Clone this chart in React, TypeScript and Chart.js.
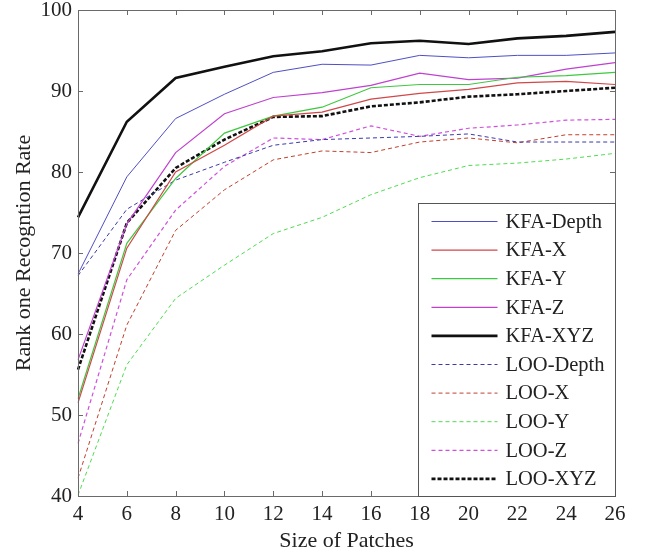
import React, { useEffect, useRef } from 'react';
import { Chart, registerables } from 'chart.js';

Chart.register(...registerables);

const patchSizes = ['4', '6', '8', '10', '12', '14', '16', '18', '20', '22', '24', '26'];
const yTickValues = [40, 50, 60, 70, 80, 90, 100];

const kfaDepth = [67.4, 79.4, 86.6, 89.6, 92.3, 93.3, 93.2, 94.4, 94.1, 94.4, 94.4, 94.7];
const kfaX = [51.5, 70.6, 80.0, 83.3, 86.9, 87.4, 89.0, 89.7, 90.2, 91.0, 91.2, 90.8];
const kfaY = [52.0, 71.2, 79.2, 84.8, 86.9, 88.0, 90.4, 90.8, 90.8, 91.7, 91.9, 92.3];
const kfaZ = [56.8, 73.6, 82.4, 87.2, 89.2, 89.8, 90.7, 92.2, 91.4, 91.6, 92.7, 93.5];
const kfaXYZ = [74.4, 86.2, 91.6, 93.0, 94.3, 94.9, 95.9, 96.2, 95.8, 96.5, 96.8, 97.3];
const looDepth = [67.2, 75.4, 79.0, 81.2, 83.3, 84.0, 84.2, 84.4, 84.7, 83.7, 83.7, 83.7];
const looX = [42.2, 61.1, 72.8, 77.8, 81.5, 82.6, 82.4, 83.7, 84.2, 83.6, 84.6, 84.6];
const looY = [40.1, 56.2, 64.4, 68.5, 72.4, 74.4, 77.2, 79.3, 80.8, 81.1, 81.6, 82.3];
const looZ = [46.5, 66.7, 75.3, 80.7, 84.2, 84.0, 85.7, 84.4, 85.4, 85.8, 86.4, 86.5];
const looXYZ = [55.6, 73.7, 80.5, 84.0, 86.8, 86.9, 88.1, 88.6, 89.3, 89.6, 90.0, 90.4];

const FONT = '"Liberation Serif", "Times New Roman", serif';
const TEXT = '#222';
const AXIS = '#6a6a6a';

const series = [
  { label: 'KFA-Depth', data: kfaDepth, color: '#4f4fc4', width: 1, dash: [] as number[] },
  { label: 'KFA-X', data: kfaX, color: '#d04848', width: 1.2, dash: [] as number[] },
  { label: 'KFA-Y', data: kfaY, color: '#3fc83f', width: 1.2, dash: [] as number[] },
  { label: 'KFA-Z', data: kfaZ, color: '#c040d0', width: 1.2, dash: [] as number[] },
  { label: 'KFA-XYZ', data: kfaXYZ, color: '#111111', width: 2.6, dash: [] as number[] },
  { label: 'LOO-Depth', data: looDepth, color: '#3a3aa8', width: 1, dash: [4, 3] },
  { label: 'LOO-X', data: looX, color: '#c0402e', width: 1, dash: [4, 3] },
  { label: 'LOO-Y', data: looY, color: '#50dc50', width: 1, dash: [4, 3] },
  { label: 'LOO-Z', data: looZ, color: '#d050dc', width: 1.2, dash: [4, 3] },
  { label: 'LOO-XYZ', data: looXYZ, color: '#111111', width: 2.6, dash: [4, 2] },
];

const framePlugin = {
  id: 'matlabFrame',
  afterDatasetsDraw(chart: any) {
    const { ctx, chartArea, scales } = chart;
    const { left, right, top, bottom } = chartArea;
    const xs = scales.x;
    const ys = scales.y;
    ctx.save();
    ctx.strokeStyle = AXIS;
    ctx.lineWidth = 1;
    ctx.setLineDash([]);
    ctx.strokeRect(Math.round(left) + 0.5, Math.round(top) + 0.5, Math.round(right - left), Math.round(bottom - top));
    const tl = 5;
    ctx.beginPath();
    patchSizes.forEach((_, i) => {
      const px = Math.round(xs.getPixelForValue(i)) + 0.5;
      ctx.moveTo(px, bottom);
      ctx.lineTo(px, bottom - tl);
      ctx.moveTo(px, top);
      ctx.lineTo(px, top + tl);
    });
    yTickValues.forEach((v) => {
      const py = Math.round(ys.getPixelForValue(v)) + 0.5;
      ctx.moveTo(left, py);
      ctx.lineTo(left + tl, py);
      ctx.moveTo(right, py);
      ctx.lineTo(right - tl, py);
    });
    ctx.stroke();
    ctx.restore();
  },
  afterDraw(chart: any) {
    const { ctx, chartArea } = chart;
    const boxW = 197;
    const boxH = 293;
    const bx = Math.round(chartArea.right - boxW) + 0.5;
    const by = Math.round(chartArea.bottom - boxH) + 0.5;
    ctx.save();
    ctx.fillStyle = '#ffffff';
    ctx.fillRect(bx, by, boxW, boxH);
    ctx.strokeStyle = '#555';
    ctx.lineWidth = 1;
    ctx.setLineDash([]);
    ctx.strokeRect(bx, by, boxW, boxH);
    const rowH = 28.6;
    ctx.font = `20.5px ${FONT}`;
    ctx.textBaseline = 'middle';
    ctx.textAlign = 'left';
    chart.data.datasets.forEach((ds: any, i: number) => {
      const cy = by + 18 + i * rowH;
      ctx.beginPath();
      ctx.strokeStyle = ds.borderColor;
      ctx.lineWidth = ds.borderWidth;
      ctx.setLineDash(ds.borderDash || []);
      ctx.moveTo(bx + 13, cy);
      ctx.lineTo(bx + 79, cy);
      ctx.stroke();
      ctx.setLineDash([]);
      ctx.fillStyle = TEXT;
      ctx.fillText(ds.label, bx + 87, cy + 1);
    });
    ctx.restore();
  },
};

export default function App() {
  const ref = useRef<HTMLCanvasElement>(null);
  useEffect(() => {
    const canvas = ref.current;
    if (!canvas) return;
    const chart = new Chart(canvas, {
      type: 'line',
      data: {
        labels: patchSizes,
        datasets: series.map((s) => ({
          label: s.label,
          data: s.data,
          borderColor: s.color,
          backgroundColor: s.color,
          borderWidth: s.width,
          borderDash: s.dash,
          pointRadius: 0,
          tension: 0,
          fill: false,
        })),
      },
      options: {
        animation: false,
        responsive: true,
        maintainAspectRatio: false,
        layout: { padding: { top: 10, right: 35, left: 0, bottom: 0 } },
        plugins: {
          legend: { display: false },
          tooltip: { enabled: false },
        },
        scales: {
          x: {
            type: 'category',
            offset: false,
            grid: { display: false, drawTicks: false, tickLength: 0, offset: false },
            border: { display: false },
            ticks: {
              color: TEXT,
              font: { family: FONT, size: 21 },
              padding: 6,
              maxRotation: 0,
              autoSkip: false,
            },
            title: {
              display: true,
              text: 'Size of Patches',
              color: TEXT,
              font: { family: FONT, size: 22, lineHeight: 1 },
              padding: { top: 0, bottom: 0.5 },
            },
            afterFit: (scale: any) => {
              scale.height = 57;
              scale.paddingLeft = 0;
              scale.paddingRight = 0;
            },
          },
          y: {
            type: 'linear',
            min: 40,
            max: 100,
            grid: { display: false, drawTicks: false, tickLength: 0 },
            border: { display: false },
            ticks: {
              stepSize: 10,
              color: TEXT,
              font: { family: FONT, size: 21 },
              padding: 6,
            },
            title: {
              display: true,
              text: 'Rank one Recogntion Rate',
              color: TEXT,
              font: { family: FONT, size: 22, lineHeight: 1.2 },
              padding: { top: 10.8, bottom: 0 },
            },
            afterFit: (scale: any) => {
              scale.width = 78;
              scale.paddingTop = 0;
              scale.paddingBottom = 0;
            },
          },
        },
      },
      plugins: [framePlugin],
    });
    return () => chart.destroy();
  }, []);
  return (
    <div style={{ position: 'fixed', left: 0, top: 0, width: 650, height: 553, background: '#fff' }}>
      <canvas ref={ref} />
    </div>
  );
}
